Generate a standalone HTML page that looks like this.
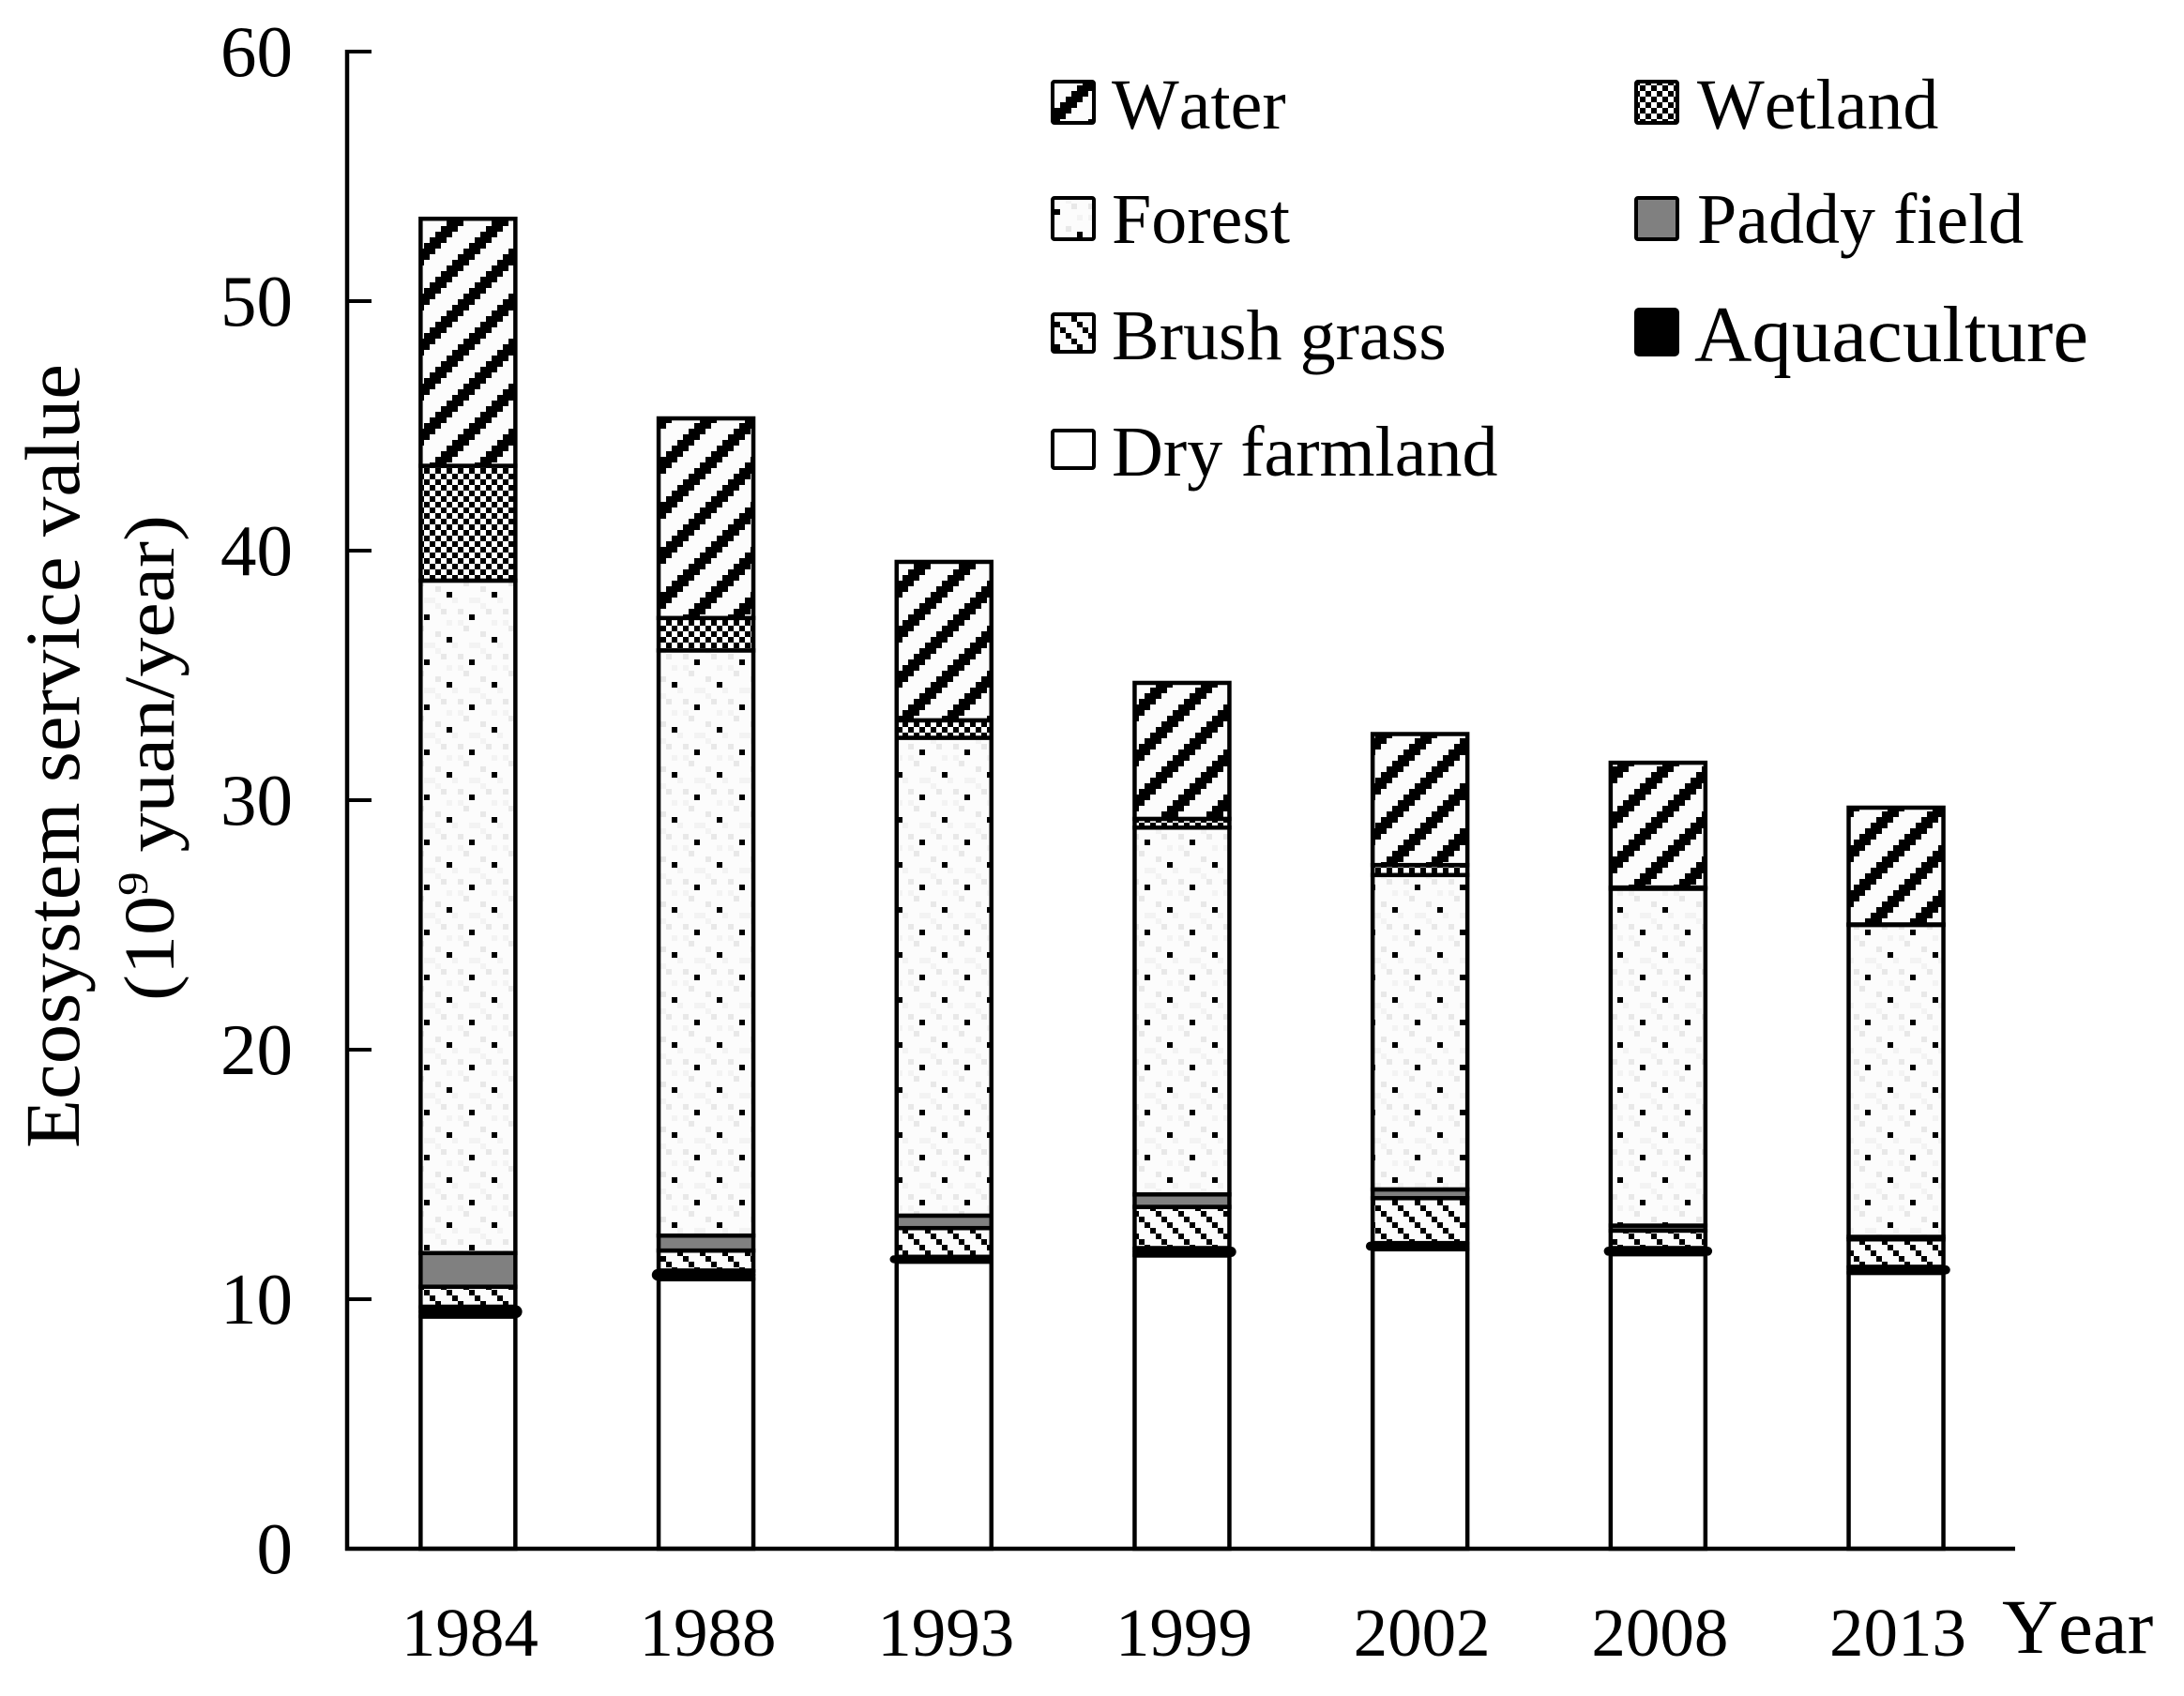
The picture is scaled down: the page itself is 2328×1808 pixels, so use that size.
<!DOCTYPE html>
<html lang="en">
<head>
<meta charset="utf-8">
<title>Ecosystem service value by land use type</title>
<style>
  html, body { margin: 0; padding: 0; background: #fff; }
  svg { display: block; }
  text { font-family: "Liberation Serif", "Times New Roman", serif; fill: #000; font-kerning: none; }
</style>
</head>
<body>
<svg id="chart" xmlns="http://www.w3.org/2000/svg" width="2328" height="1808" viewBox="0 0 2328 1808">
  <rect x="0" y="0" width="2328" height="1808" fill="#fff"/>
  <defs id="defs"></defs>
  <g id="plot"></g>

  <text transform="translate(84 806) rotate(-90)" text-anchor="middle" font-size="83" textLength="836" lengthAdjust="spacingAndGlyphs">Ecosystem service value</text>
  <text transform="translate(185 808) rotate(-90)" text-anchor="middle" font-size="76" textLength="518" lengthAdjust="spacingAndGlyphs">(10<tspan font-size="46" dy="-28">9</tspan><tspan dy="28"> yuan/year)</tspan></text>
  <text x="2134" y="1762" font-size="83">Year</text>

  <g>
    <g>
      <rect x="1122" y="87" width="44" height="44" rx="2" fill="url(#pat-water)" stroke="#000" stroke-width="4"/>
      <text x="1185" y="137" font-size="76">Water</text>
    </g>
    <g>
      <rect x="1122" y="211" width="44" height="44" rx="2" fill="url(#pat-forest)" stroke="#000" stroke-width="4"/>
      <text x="1185" y="259" font-size="76">Forest</text>
    </g>
    <g>
      <rect x="1122" y="335" width="44" height="40" rx="2" fill="url(#pat-brush)" stroke="#000" stroke-width="4"/>
      <text x="1185" y="383" font-size="76">Brush grass</text>
    </g>
    <g>
      <rect x="1122" y="459" width="44" height="40" rx="2" fill="#fff" stroke="#000" stroke-width="4"/>
      <text x="1185" y="507" font-size="76">Dry farmland</text>
    </g>
    <g>
      <rect x="1744" y="87" width="44" height="44" rx="2" fill="url(#pat-wetland)" stroke="#000" stroke-width="4"/>
      <text x="1809" y="137" font-size="76">Wetland</text>
    </g>
    <g>
      <rect x="1744" y="211" width="44" height="44" rx="2" fill="#808080" stroke="#000" stroke-width="4"/>
      <text x="1809" y="259" font-size="76">Paddy field</text>
    </g>
    <g>
      <rect x="1744" y="330" width="44" height="48" rx="3" fill="#000" stroke="#000" stroke-width="4"/>
      <text x="1806" y="385" font-size="85">Aquaculture</text>
    </g>
  </g>
</svg>

<script>
const categories = ['1984', '1988', '1993', '1999', '2002', '2008', '2013'];
const yTicks = [0, 10, 20, 30, 40, 50, 60];
const dryFarmland = [9.3, 10.8, 11.5, 11.75, 12.0, 11.8, 11.05];
const aquaculture = [0.4, 0.35, 0.2, 0.3, 0.25, 0.25, 0.25];
const brushGrass = [0.8, 0.8, 1.15, 1.65, 1.8, 0.7, 1.1];
const paddyField = [1.35, 0.6, 0.5, 0.5, 0.35, 0.2, 0.1];
const forest = [26.95, 23.45, 19.15, 14.7, 12.6, 13.5, 12.5];
const wetland = [4.6, 1.3, 0.7, 0.35, 0.4, 0.05, 0.02];
const water = [9.9, 8.0, 6.35, 5.45, 5.25, 5.0, 4.68];

const NS = 'http://www.w3.org/2000/svg';
const plot = document.getElementById('plot');
const defs = document.getElementById('defs');

const axisX = 370;
const axisEnd = 2148;
const y0 = 1651;
const unit = 26.6;
const band = 253.7;
const barW = 101;
const wall = 4.5;

function xCenter(i) { return axisX + 2 + band * (i + 0.5); }
function yPos(v) { return y0 - v * unit; }

function svgEl(tag, attrs) {
  const el = document.createElementNS(NS, tag);
  for (const k in attrs) el.setAttribute(k, attrs[k]);
  return el;
}

/* pixel-block hatch tiles: 6px blocks aligned to a global grid */
const BLOCK = 6;
function makePattern(id, cells, bg, layers) {
  const p = svgEl('pattern', {
    id: id, patternUnits: 'userSpaceOnUse', x: 2, y: 1,
    width: cells * BLOCK, height: cells * BLOCK
  });
  p.appendChild(svgEl('rect', { x: 0, y: 0, width: cells * BLOCK, height: cells * BLOCK, fill: bg }));
  layers.forEach(function (layer) {
    let d = '';
    for (let r = 0; r < cells; r++) {
      for (let c = 0; c < cells; c++) {
        if (layer.test(c, r)) {
          d += 'M' + c * BLOCK + ' ' + r * BLOCK + 'h' + BLOCK + 'v' + BLOCK + 'h-' + BLOCK + 'z';
        }
      }
    }
    p.appendChild(svgEl('path', { d: d, fill: layer.color, 'shape-rendering': 'crispEdges' }));
  });
  defs.appendChild(p);
}

makePattern('pat-water', 8, '#fcfcfc', [
  { color: '#f0f0f0', test: function (c, r) { return c === 3 && r === 3; } },
  { color: '#000', test: function (c, r) { const m = (c + r) % 8; return m === 6 || m === 7 || m === 0; } }
]);
makePattern('pat-wetland', 2, '#fff', [
  { color: '#000', test: function (c, r) { return (c + r) % 2 === 0; } }
]);
const forestLight = ['5,0', '1,4', '5,3', '6,4', '2,7', '1,6', '4,2', '0,2', '3,2', '7,6'];
const forestMid = ['5,0', '1,4', '6,4', '2,7'];
makePattern('pat-forest', 8, '#fcfcfc', [
  { color: '#f3f3f3', test: function (c, r) { return forestLight.indexOf(c + ',' + r) >= 0; } },
  { color: '#e8e8e8', test: function (c, r) { return forestMid.indexOf(c + ',' + r) >= 0; } },
  { color: '#000', test: function (c, r) { return (c === 7 && r === 1) || (c === 3 && r === 5); } }
]);
makePattern('pat-brush', 4, '#fcfcfc', [
  { color: '#000', test: function (c, r) { return ((c - r + 8) % 4) === 2; } }
]);

/* axes */
const yAxis = svgEl('line', { x1: axisX, y1: yPos(60) - 2, x2: axisX, y2: y0 + 2, stroke: '#000', 'stroke-width': wall });


plot.appendChild(yAxis);

yTicks.forEach(function (t) {
  const tick = svgEl('line', { x1: axisX, y1: yPos(t), x2: axisX + 26, y2: yPos(t), stroke: '#000', 'stroke-width': 4 });
  
  
  plot.appendChild(tick);

  const label = svgEl('text', { x: 312, y: yPos(t) + 26, 'text-anchor': 'end', 'font-size': 77 });
  
  
  label.textContent = String(t);
  plot.appendChild(label);
});

/* stacks, bottom to top */
const stackOrder = [
  { key: 'dry-farmland', values: dryFarmland, fill: '#fff' },
  { key: 'aquaculture', values: aquaculture, fill: '#000' },
  { key: 'brush-grass', values: brushGrass, fill: 'url(#pat-brush)' },
  { key: 'paddy-field', values: paddyField, fill: '#808080' },
  { key: 'forest', values: forest, fill: 'url(#pat-forest)' },
  { key: 'wetland', values: wetland, fill: 'url(#pat-wetland)' },
  { key: 'water', values: water, fill: 'url(#pat-water)' }
];
/* which side the rounded aquaculture band overshoots the bar */
const aquaOvershoot = ['r', 'l', 'l', 'r', 'l', 'b', 'r'];
const overshoot = 5;

categories.forEach(function (year, i) {
  const cx = xCenter(i);
  const left = cx - barW / 2;
  const right = left + barW;
  const group = svgEl('g', {});
  
  
  const aquaLater = [];
  let cum = 0;
  stackOrder.forEach(function (s) {
    const v = s.values[i];
    const yTop = yPos(cum + v);
    const yBottom = yPos(cum);
    cum += v;
    if (s.key === 'aquaculture') {
      const side = aquaOvershoot[i];
      const x1 = left - wall / 2 - (side === 'l' || side === 'b' ? overshoot : 0);
      const x2 = right + wall / 2 + (side === 'r' || side === 'b' ? overshoot : 0);
      const h = Math.max(yBottom - yTop, 1) + 3;
      const top = (yTop + yBottom) / 2 - h / 2;
      const body = svgEl('rect', { x: left - wall / 2, y: top, width: barW + wall, height: h, fill: '#000' });
      
      
      aquaLater.push(body);
      const cap = svgEl('rect', { x: x1, y: top, width: x2 - x1, height: h, rx: h / 2, fill: '#000' });
      
      
      aquaLater.push(cap);
    } else {
      const seg = svgEl('rect', {
        x: left, y: yTop, width: barW, height: Math.max(yBottom - yTop, 0),
        fill: s.fill, stroke: '#000', 'stroke-width': wall
      });
      
      
      group.appendChild(seg);
    }
  });
  aquaLater.forEach(function (el) { group.appendChild(el); });
  plot.appendChild(group);

  const label = svgEl('text', { x: cx + 2, y: 1765, 'text-anchor': 'middle', 'font-size': 73 });
  
  
  label.textContent = year;
  plot.appendChild(label);
});

const xAxis = svgEl('line', { x1: axisX - 2, y1: y0, x2: axisEnd, y2: y0, stroke: '#000', 'stroke-width': wall });


plot.appendChild(xAxis);
</script>
</body>
</html>
